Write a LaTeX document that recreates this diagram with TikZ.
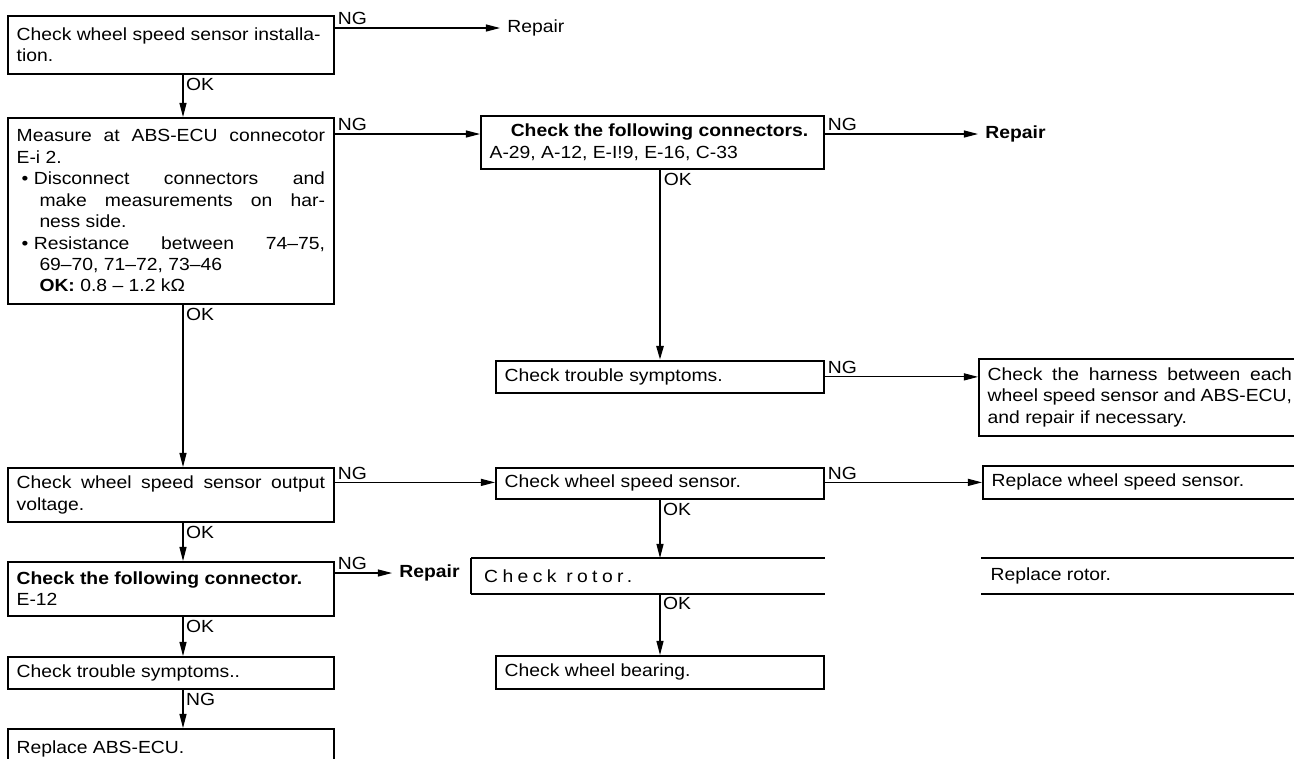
\documentclass[tikz,border=0pt]{standalone}
\usepackage{fontspec}
\setmainfont{Liberation Sans}[FakeStretch=1.1]
\usetikzlibrary{arrows.meta,positioning}
\newcommand\boxfont{\fontsize{10}{12.2}\selectfont}
\newcommand\bul{\hspace*{2.8pt}\makebox[7pt][l]{\textbullet}}

\begin{document}
\begin{tikzpicture}[x=0.02cm, y=-0.02cm,
    box/.style={draw, line width=1pt, anchor=north west, inner xsep=5pt, inner ysep=2pt,
        align=justify, font=\boxfont, minimum width=#1, text width=#1-10pt},
    open/.style={box=#1, draw=none},
    arr/.style={-{Triangle[length=8pt,width=4pt]}, line width=0.6pt},
    lbl/.style={font=\boxfont, inner sep=1.5pt},
    res/.style={font=\boxfont, anchor=west, inner xsep=4pt, inner ysep=1pt}
]
\useasboundingbox (0,0) rectangle (1294,758);
\coordinate (colA) at (183,0);
\coordinate (colB) at (660,0);

% left column
\node[box=6.52cm, minimum height=1.16cm] (inst) at (7,15)
    {Check wheel speed sensor installa-\\tion.};
\node[box=6.52cm, minimum height=3.72cm] (meas) at (7,117)
    {Measure at ABS-ECU connecotor\linebreak E-i 2.\par
     \hangindent=13pt\hangafter=1\bul Disconnect connectors and\linebreak
     make measurements on har-\linebreak ness side.\par
     \hangindent=13pt\hangafter=1\bul Resistance between 74--75,\linebreak
     69--70, 71--72, 73--46\newline \textbf{OK:} 0.8 -- 1.2 kΩ\par};
\node[box=6.52cm, minimum height=1.08cm] (volt) at (7,467)
    {Check wheel speed sensor output\linebreak voltage.};
\node[box=6.52cm, minimum height=1.08cm] (connB) at (7,561)
    {\textbf{Check the following connector.}\\E-12};
\node[box=6.52cm, minimum height=0.64cm] (sympB) at (7,656) {Check trouble symptoms..};
\node[box=6.52cm, minimum height=0.8cm] (ecu) at (7,728) {Replace ABS-ECU.};

% middle column
\node[box=6.86cm, minimum height=1.06cm] (conn) at (480,115)
    {\hspace*{1.2em}\textbf{Check the following connectors.}\\A-29, A-12, E-I!9, E-16, C-33};
\node[box=6.56cm, minimum height=0.64cm] (sympA) at (495,360) {Check trouble symptoms.};
\node[box=6.56cm, minimum height=0.62cm] (sensor) at (495,467) {Check wheel speed sensor.};
\node[open=7.04cm, minimum height=0.68cm] (rotor) at (471,558)
    {\addfontfeature{LetterSpace=25}\hspace*{2pt}Check rotor.};
\node[box=6.56cm, minimum height=0.66cm] (bearing) at (495,655) {Check wheel bearing.};

% right column
\node[box=6.44cm, minimum height=1.54cm] (harness) at (978,358)
    {Check the harness between each\linebreak wheel speed sensor and ABS-ECU,\linebreak and repair if necessary.};
\node[box=6.36cm, minimum height=0.66cm] (replS) at (982,465) {Replace wheel speed sensor.};
\node[open=6.38cm, minimum height=0.68cm] (replR) at (981,558) {Replace rotor.};

\node[res] (repA) at (500,28) {Repair};
\node[res] (repB) at (978,134) {\textbf{Repair}};
\node[res] (repC) at (392,573) {\textbf{Repair}};

% open boxes
\draw[line width=1pt] (rotor.north west) -- (rotor.north east)
    (rotor.south west) -- (rotor.south east)
    (rotor.north west) -- (rotor.south west);
\draw[line width=1pt] (replR.north west) -- (replR.north east)
    (replR.south west) -- (replR.south east);

% OK branches
\draw[arr] (inst.south -| colA) -- node[lbl, pos=0, below right] {OK} (meas.north -| colA);
\draw[arr] (meas.south -| colA) -- node[lbl, pos=0, below right] {OK} (volt.north -| colA);
\draw[arr] (volt.south -| colA) -- node[lbl, pos=0, below right] {OK} (connB.north -| colA);
\draw[arr] (connB.south -| colA) -- node[lbl, pos=0, below right] {OK} (sympB.north -| colA);
\draw[arr] (sympB.south -| colA) -- node[lbl, pos=0, below right] {NG} (ecu.north -| colA);
\draw[arr, line width=1.4pt] (conn.south -| colB) -- node[lbl, pos=0, below right] {OK} (sympA.north -| colB);
\draw[arr] (sensor.south -| colB) -- node[lbl, pos=0, below right] {OK} (rotor.north -| colB);
\draw[arr] (rotor.south -| colB) -- node[lbl, pos=0, below right] {OK} (bearing.north -| colB);

% NG branches
\draw[arr] (inst.east |- repA.west) -- node[lbl, pos=0, above right] {NG} (repA.west);
\draw[arr] (meas.east |- repB.west) -- node[lbl, pos=0, above right] {NG} (conn.west |- repB.west);
\draw[arr] (conn.east |- repB.west) -- node[lbl, pos=0, above right] {NG} (repB.west);
\draw[arr] (sympA.east) -- node[lbl, pos=0, above right] {NG} (harness.west |- sympA.east);
\draw[arr] (volt.east |- replS.west) -- node[lbl, pos=0, above right] {NG} (sensor.west |- replS.west);
\draw[arr] (sensor.east |- replS.west) -- node[lbl, pos=0, above right] {NG} (replS.west);
\draw[arr] (connB.east |- repC.west) -- node[lbl, pos=0, above right] {NG} (repC.west);
\end{tikzpicture}
\end{document}
